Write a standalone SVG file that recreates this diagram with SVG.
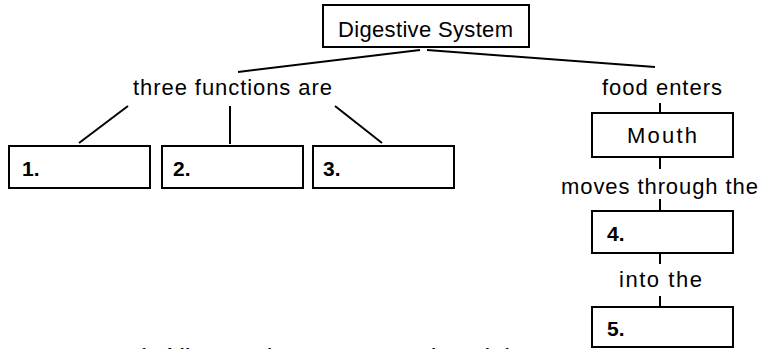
<svg xmlns="http://www.w3.org/2000/svg" width="764" height="349" viewBox="0 0 764 349">
<style>
.box{fill:#fff;stroke:#000;stroke-width:2}
.lbl{font-family:"Liberation Sans",Arial,sans-serif;font-size:22px;fill:#000}
.num{font-family:"Liberation Sans",Arial,sans-serif;font-size:21px;font-weight:bold;fill:#000}
.con{stroke:#000;stroke-width:2;fill:none}
.note{font-family:"Liberation Serif","Times New Roman",serif;font-style:italic;font-size:24px;fill:#000}
</style>
<rect width="764" height="349" fill="#fff"/>
<g id="connectors">
<line class="con" x1="420" y1="50" x2="238" y2="72"/>
<line class="con" x1="427" y1="50" x2="655" y2="67"/>
<line class="con" x1="128" y1="106" x2="79" y2="143"/>
<line class="con" x1="230" y1="106" x2="230" y2="144"/>
<line class="con" x1="335" y1="106" x2="382" y2="143"/>
<line class="con" x1="660" y1="103" x2="660" y2="113"/>
<line class="con" x1="660" y1="157" x2="660" y2="169"/>
<line class="con" x1="660" y1="199" x2="660" y2="210"/>
<line class="con" x1="660" y1="253" x2="660" y2="264"/>
<line class="con" x1="660" y1="296" x2="660" y2="307"/>
</g>
<g id="digestive-system">
<rect class="box" x="323" y="5" width="206" height="42"/>
<text class="lbl" x="338" y="37" textLength="175" lengthAdjust="spacing">Digestive System</text>
</g>
<g id="three-functions">
<text class="lbl" x="133" y="95" textLength="199" lengthAdjust="spacing">three functions are</text>
</g>
<g id="food-enters">
<text class="lbl" x="602" y="95" textLength="120" lengthAdjust="spacing">food enters</text>
</g>
<g id="mouth">
<rect class="box" x="592" y="113" width="141" height="44"/>
<text class="lbl" x="627" y="143" textLength="70" lengthAdjust="spacing">Mouth</text>
</g>
<g id="moves-through">
<text class="lbl" x="561" y="194" textLength="197" lengthAdjust="spacing">moves through the</text>
</g>
<g id="box1">
<rect class="box" x="9" y="146" width="141" height="42"/>
<text class="num" x="22" y="176">1.</text>
</g>
<g id="box2">
<rect class="box" x="162" y="146" width="141" height="42"/>
<text class="num" x="173" y="176">2.</text>
</g>
<g id="box3">
<rect class="box" x="313" y="146" width="141" height="42"/>
<text class="num" x="323" y="176">3.</text>
</g>
<g id="box4">
<rect class="box" x="592" y="211" width="141" height="42"/>
<text class="num" x="607" y="241">4.</text>
</g>
<g id="into-the">
<text class="lbl" x="619" y="287" textLength="83" lengthAdjust="spacing">into the</text>
</g>
<g id="box5">
<rect class="box" x="592" y="307" width="141" height="40"/>
<text class="num" x="607" y="336">5.</text>
</g>
<text class="note" x="122" y="364" textLength="400" lengthAdjust="spacingAndGlyphs">e the following in the concept map together with the</text>
</svg>
